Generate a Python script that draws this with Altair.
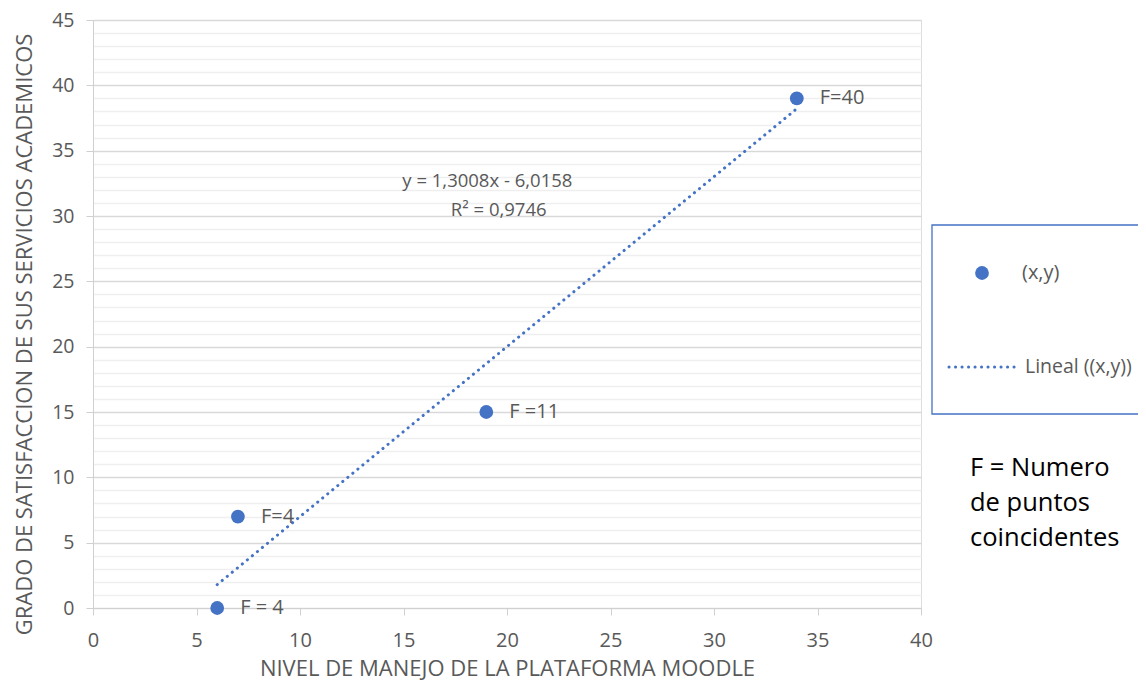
import altair as alt
import pandas as pd

# Data
xs = [6, 7, 19, 34]
ys = [0, 7, 15, 39]
labels = ["F = 4", "F=4", "F =11", "F=40"]
slope = 1.3008
intercept = -6.0158
trend_x = [6, 34]
eq_text = ["y = 1,3008x - 6,0158", "R\u00b2 = 0,9746"]
eq_x = [19.05, 19.6]
eq_y = [32.7, 30.45]
x_ticks = list(range(0, 41, 5))
y_ticks = list(range(0, 46))

BLUE = "#4472C4"
GRAY = "#595959"
FONT = "Open Sans"

pts = pd.DataFrame({"x": xs, "y": ys, "label": labels})
trend = pd.DataFrame({"x": trend_x, "y": [slope * v + intercept for v in trend_x]})
eq = pd.DataFrame({"x": eq_x, "y": eq_y, "t": eq_text})
one = pd.DataFrame({"a": [0]})

xscale = alt.Scale(domain=[0, 40], nice=False)
yscale = alt.Scale(domain=[0, 45], nice=False)

xaxis = alt.Axis(values=x_ticks, grid=False, title="NIVEL DE MANEJO DE LA PLATAFORMA MOODLE",
                 tickSize=7, tickColor="#d0d0d0", domainColor="#d0d0d0", labelPadding=15,
                 labelFontSize=20, labelColor=GRAY, labelFont=FONT, labelOverlap=False, labelFlush=False,
                 titleFontSize=22, titleFont=FONT, titleColor=GRAY, titleFontWeight="normal",
                 titleBaseline="alphabetic", titleY=67)
yaxis = alt.Axis(values=y_ticks, grid=True, tickCount=46,
                 gridColor={"condition": {"test": "datum.value % 5 === 0", "value": "#d9d9d9"}, "value": "#efefef"},
                 gridWidth=1.3,
                 tickOpacity={"condition": {"test": "datum.value % 5 === 0", "value": 1}, "value": 0},
                 labelExpr="datum.value % 5 === 0 ? datum.label : ''",
                 labelOverlap=False, labelFlush=False,
                 title="GRADO DE SATISFACCION DE SUS SERVICIOS ACADEMICOS",
                 tickSize=7, tickColor="#d0d0d0", domainColor="#d0d0d0", labelPadding=12,
                 labelFontSize=19.5, labelColor=GRAY, labelFont=FONT,
                 titleFontSize=22, titleFont=FONT, titleColor=GRAY, titleFontWeight="normal",
                 titleX=-69, titleY=314, titleAlign="center", titleBaseline="middle", titleAngle=-90)

X = alt.X("x:Q", scale=xscale, axis=xaxis)
Y = alt.Y("y:Q", scale=yscale, axis=yaxis)

base_pts = alt.Chart(pts)
points = base_pts.mark_point(filled=True, size=190, color=BLUE, opacity=1).encode(x=X, y=Y)
point_labels = base_pts.mark_text(align="left", baseline="middle", dx=23, fontSize=20, font=FONT, color=GRAY).encode(
    x=X, y=Y, text="label:N"
)
trend_line = alt.Chart(trend).mark_line(color=BLUE, strokeWidth=3, strokeDash=[0.1, 6.4], strokeCap="round").encode(
    x=X, y=Y
)
eq_marks = alt.Chart(eq).mark_text(align="center", baseline="middle", fontSize=18.5, font=FONT, color=GRAY).encode(
    x=X, y=Y, text="t:N"
)

# Legend (drawn manually, outside plot area)
leg_box = alt.Chart(one).mark_rect(fill="white", stroke=BLUE, strokeWidth=1.3).encode(
    x=alt.value(839), x2=alt.value(1070), y=alt.value(205), y2=alt.value(394)
)
leg_pt = alt.Chart(one).mark_point(filled=True, size=190, color=BLUE, opacity=1).encode(
    x=alt.value(889), y=alt.value(253)
)
leg_pt_txt = alt.Chart(one).mark_text(align="left", baseline="middle", fontSize=20, font=FONT, color=GRAY).encode(
    x=alt.value(929), y=alt.value(253), text=alt.value("(x,y)")
)
leg_line = alt.Chart(one).mark_rule(color=BLUE, strokeWidth=3, strokeDash=[0.1, 6.4], strokeCap="round").encode(
    x=alt.value(856), x2=alt.value(925), y=alt.value(347)
)
leg_line_txt = alt.Chart(one).mark_text(align="left", baseline="middle", fontSize=19.5, font=FONT, color=GRAY).encode(
    x=alt.value(932), y=alt.value(347), text=alt.value("Lineal ((x,y))")
)
note = alt.Chart(one).mark_text(align="left", baseline="middle", fontSize=25.5, font=FONT, color="#000000",
                                lineHeight=35).encode(
    x=alt.value(877), y=alt.value(448), text=alt.value(["F = Numero", "de puntos", "coincidentes"])
)

chart = alt.layer(
    trend_line, points, point_labels, eq_marks,
    leg_box, leg_pt, leg_pt_txt, leg_line, leg_line_txt, note
).properties(
    width=828, height=588,
    padding={"left": 85, "top": 12, "right": 217, "bottom": 72},
    autosize=alt.AutoSizeParams(type="none"),
).configure_view(stroke=None).configure(background="white")

chart.save("out.html", embed_options={"renderer": "svg", "actions": False})
